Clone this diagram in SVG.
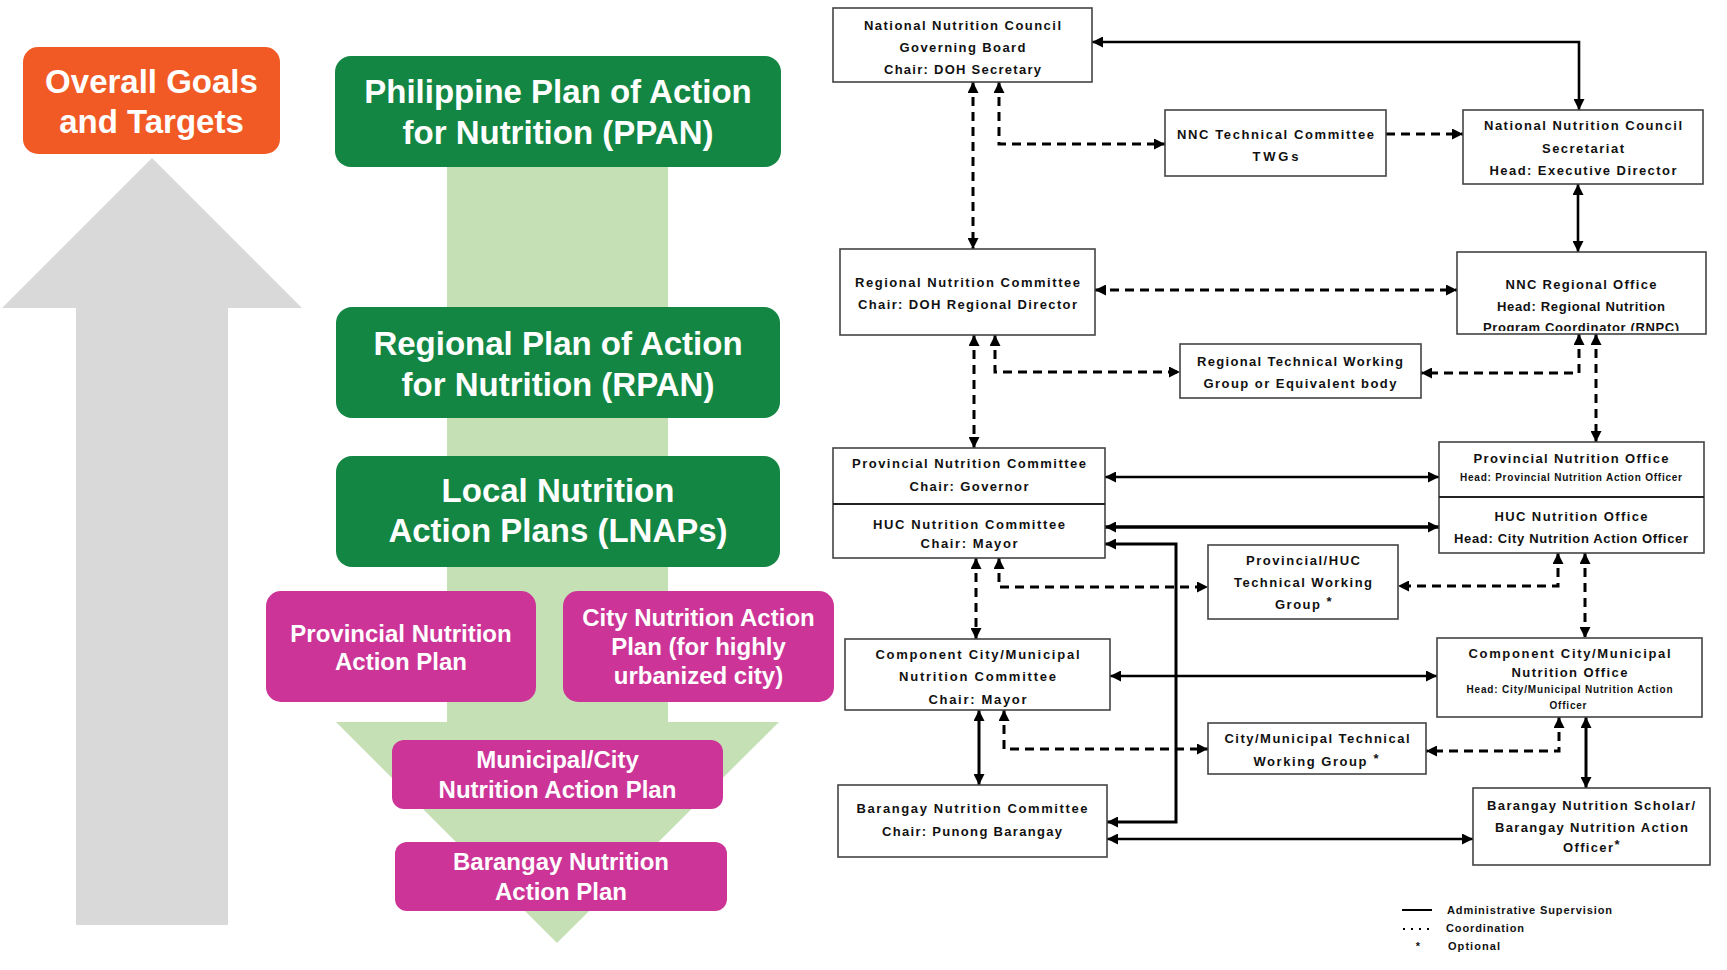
<svg xmlns="http://www.w3.org/2000/svg" width="1727" height="970" viewBox="0 0 1727 970">
<style>
.big{font-family:"Liberation Sans",Arial,sans-serif;font-weight:bold;fill:#fff;text-anchor:middle}
.b33{font-size:33px}
.b24{font-size:24px}
.box{fill:#fff;stroke:#444;stroke-width:1.6}
.t{font-family:"Liberation Sans",Arial,sans-serif;font-weight:bold;font-size:13px;fill:#111;text-anchor:middle}
.s{font-size:10px}
.st{font-family:"Liberation Sans",Arial,sans-serif;font-weight:bold;font-size:13px;fill:#111;text-anchor:middle}
.sol{fill:none;stroke:#000;stroke-width:2.6;marker-start:url(#ah);marker-end:url(#ah)}
.das{fill:none;stroke:#000;stroke-width:3;stroke-dasharray:9 6;marker-start:url(#ah);marker-end:url(#ah)}
.leg{font-family:"Liberation Sans",Arial,sans-serif;font-weight:bold;font-size:11px;fill:#111}
</style>
<defs>
<marker id="ah" viewBox="0 0 10 10" refX="10" refY="5" markerWidth="12" markerHeight="11" markerUnits="userSpaceOnUse" orient="auto-start-reverse">
<path d="M0,0 L10,5 L0,10 z" fill="#000"/>
</marker>
<clipPath id="rnoclip"><rect x="1457" y="252" width="249" height="79"/></clipPath>
</defs>
<rect width="1727" height="970" fill="#fff"/>

<g id="left-panel">
<polygon id="up-arrow" points="152,158 302,308 228,308 228,925 76,925 76,308 2,308" fill="#D9D9D9"/>
<polygon id="down-arrow" points="447,160 668,160 668,722 779,722 557,943 336,722 447,722" fill="#C5E0B4"/>
<g id="goals">
<rect x="23" y="47" width="257" height="107" rx="15" fill="#F15A24"/>
<text class="big b33" x="151.5" y="93">Overall Goals</text>
<text class="big b33" x="151.5" y="133">and Targets</text>
</g>
<g id="ppan">
<rect x="335" y="56" width="446" height="111" rx="16" fill="#138644"/>
<text class="big b33" x="558" y="103">Philippine Plan of Action</text>
<text class="big b33" x="558" y="144">for Nutrition (PPAN)</text>
</g>
<g id="rpan">
<rect x="336" y="307" width="444" height="111" rx="16" fill="#138644"/>
<text class="big b33" x="558" y="355">Regional Plan of Action</text>
<text class="big b33" x="558" y="396">for Nutrition (RPAN)</text>
</g>
<g id="lnap">
<rect x="336" y="456" width="444" height="111" rx="16" fill="#138644"/>
<text class="big b33" x="558" y="502">Local Nutrition</text>
<text class="big b33" x="558" y="542">Action Plans (LNAPs)</text>
</g>
<g id="pnap">
<rect x="266" y="591" width="270" height="111" rx="15" fill="#CC3497"/>
<text class="big b24" x="401" y="642">Provincial Nutrition</text>
<text class="big b24" x="401" y="670">Action Plan</text>
</g>
<g id="cnap">
<rect x="563" y="591" width="271" height="111" rx="15" fill="#CC3497"/>
<text class="big b24" x="698.5" y="626">City Nutrition Action</text>
<text class="big b24" x="698.5" y="655">Plan (for highly</text>
<text class="big b24" x="698.5" y="684">urbanized city)</text>
</g>
<g id="mnap">
<rect x="392" y="740" width="331" height="69" rx="12" fill="#CC3497"/>
<text class="big b24" x="557.5" y="768">Municipal/City</text>
<text class="big b24" x="557.5" y="798">Nutrition Action Plan</text>
</g>
<g id="bnap">
<rect x="395" y="842" width="332" height="69" rx="12" fill="#CC3497"/>
<text class="big b24" x="561" y="870">Barangay Nutrition</text>
<text class="big b24" x="561" y="900">Action Plan</text>
</g>
</g>

<g id="connectors">
<path class="sol" d="M1092,42 H1579 V110" stroke-width="3"/>
<path class="das" d="M973,82 V249"/>
<path class="das" d="M999,82 V144 H1165"/>
<path class="das" d="M1386,134 H1463" style="marker-start:none"/>
<path class="sol" d="M1578,184 V252" stroke-width="3"/>
<path class="das" d="M1095,290 H1457"/>
<path class="das" d="M974,335 V448"/>
<path class="das" d="M995,335 V372 H1180"/>
<path class="das" d="M1579,334 V373 H1421"/>
<path class="das" d="M1596,334 V442"/>
<path class="sol" d="M1105,477 H1439"/>
<path class="sol" d="M1105,527 H1439" style="stroke-width:3.6"/>
<path class="sol" d="M1105,544 H1176 V822 H1107" style="stroke-width:3"/>
<path class="das" d="M976,558 V639"/>
<path class="das" d="M999,558 V587 H1208"/>
<path class="das" d="M1558,553 V586 H1398"/>
<path class="das" d="M1585,553 V638"/>
<path class="sol" d="M1110,676 H1437"/>
<path class="sol" d="M979,710 V785" style="stroke-width:3"/>
<path class="das" d="M1004,710 V749 H1208"/>
<path class="das" d="M1559,717 V751 H1426"/>
<path class="sol" d="M1586,717 V788" style="stroke-width:3"/>
<path class="sol" d="M1107,839 H1473"/>
</g>

<g id="nnc-board">
<rect class="box" x="833" y="8" width="259" height="74"/>
<text class="t" x="962.5" y="29.5" textLength="197" lengthAdjust="spacing">National Nutrition Council</text>
<text class="t" x="962.5" y="51.5" textLength="126" lengthAdjust="spacing">Governing Board</text>
<text class="t" x="962.5" y="73.5" textLength="157" lengthAdjust="spacing">Chair: DOH Secretary</text>
</g>
<g id="nnc-tc">
<rect class="box" x="1165" y="110" width="221" height="66"/>
<text class="t" x="1275.5" y="138.5" textLength="197" lengthAdjust="spacing">NNC Technical Committee</text>
<text class="t" x="1275.5" y="160.5" textLength="46" lengthAdjust="spacing">TWGs</text>
</g>
<g id="nnc-secretariat">
<rect class="box" x="1463" y="110" width="240" height="74"/>
<text class="t" x="1583" y="129.5" textLength="198" lengthAdjust="spacing">National Nutrition Council</text>
<text class="t" x="1583" y="152.5" textLength="82" lengthAdjust="spacing">Secretariat</text>
<text class="t" x="1583" y="174.5" textLength="187" lengthAdjust="spacing">Head: Executive Director</text>
</g>
<g id="nnc-ro">
<rect class="box" x="1457" y="252" width="249" height="82"/>
<text class="t" x="1581" y="288.5" textLength="151" lengthAdjust="spacing">NNC Regional Office</text>
<text class="t" x="1581" y="310.5" textLength="168" lengthAdjust="spacing">Head: Regional Nutrition</text>
<text class="t" x="1581" y="332" textLength="196" lengthAdjust="spacing" clip-path="url(#rnoclip)">Program Coordinator (RNPC)</text>
</g>
<g id="rnc">
<rect class="box" x="840" y="249" width="255" height="86"/>
<text class="t" x="967.5" y="286.5" textLength="225" lengthAdjust="spacing">Regional Nutrition Committee</text>
<text class="t" x="967.5" y="308.5" textLength="219" lengthAdjust="spacing">Chair: DOH Regional Director</text>
</g>
<g id="rtwg">
<rect class="box" x="1180" y="344" width="241" height="54"/>
<text class="t" x="1300" y="365.5" textLength="206" lengthAdjust="spacing">Regional Technical Working</text>
<text class="t" x="1300" y="387.5" textLength="193" lengthAdjust="spacing">Group or Equivalent body</text>
</g>
<g id="pnc-hucnc">
<rect class="box" x="833" y="448" width="272" height="110"/>
<line x1="833" y1="504" x2="1105" y2="504" stroke="#222" stroke-width="2"/>
<text class="t" x="969" y="467.5" textLength="234" lengthAdjust="spacing">Provincial Nutrition Committee</text>
<text class="t" x="969" y="490.5" textLength="119" lengthAdjust="spacing">Chair: Governor</text>
<text class="t" x="969" y="528.5" textLength="192" lengthAdjust="spacing">HUC Nutrition Committee</text>
<text class="t" x="969" y="547.5" textLength="97" lengthAdjust="spacing">Chair: Mayor</text>
</g>
<g id="pno-hucno">
<rect class="box" x="1439" y="442" width="265" height="111"/>
<line x1="1439" y1="497" x2="1704" y2="497" stroke="#222" stroke-width="2"/>
<text class="t" x="1571" y="462.5" textLength="195" lengthAdjust="spacing">Provincial Nutrition Office</text>
<text class="t s" x="1571" y="480.5" textLength="222" lengthAdjust="spacing">Head: Provincial Nutrition Action Officer</text>
<text class="t" x="1571" y="520.5" textLength="153" lengthAdjust="spacing">HUC Nutrition Office</text>
<text class="t" x="1571" y="542.5" textLength="234" lengthAdjust="spacing">Head: City Nutrition Action Officer</text>
</g>
<g id="phuc-twg">
<rect class="box" x="1208" y="545" width="190" height="74"/>
<text class="t" x="1303" y="564.5" textLength="114" lengthAdjust="spacing">Provincial/HUC</text>
<text class="t" x="1303" y="586.5" textLength="138" lengthAdjust="spacing">Technical Working</text>
<text class="t" x="1297.5" y="608.5" textLength="45" lengthAdjust="spacing">Group</text>
<text class="st" x="1329" y="606">*</text>
</g>
<g id="ccm-nc">
<rect class="box" x="845" y="639" width="265" height="71"/>
<text class="t" x="977.5" y="658.5" textLength="204" lengthAdjust="spacing">Component City/Municipal</text>
<text class="t" x="977.5" y="680.5" textLength="157" lengthAdjust="spacing">Nutrition Committee</text>
<text class="t" x="977.5" y="703.5" textLength="98" lengthAdjust="spacing">Chair: Mayor</text>
</g>
<g id="ccm-no">
<rect class="box" x="1437" y="638" width="265" height="79"/>
<text class="t" x="1569.5" y="657.5" textLength="202" lengthAdjust="spacing">Component City/Municipal</text>
<text class="t" x="1569.5" y="676.5" textLength="116" lengthAdjust="spacing">Nutrition Office</text>
<text class="t s" x="1569.5" y="692.5" textLength="206" lengthAdjust="spacing">Head: City/Municipal Nutrition Action</text>
<text class="t s" x="1568" y="708.5" textLength="37" lengthAdjust="spacing">Officer</text>
</g>
<g id="cm-twg">
<rect class="box" x="1208" y="723" width="218" height="51"/>
<text class="t" x="1317" y="742.5" textLength="185" lengthAdjust="spacing">City/Municipal Technical</text>
<text class="t" x="1310" y="765.5" textLength="113" lengthAdjust="spacing">Working Group</text>
<text class="st" x="1376" y="763">*</text>
</g>
<g id="bns">
<rect class="box" x="1473" y="788" width="237" height="77"/>
<text class="t" x="1591" y="809.5" textLength="208" lengthAdjust="spacing">Barangay Nutrition Scholar/</text>
<text class="t" x="1591.5" y="831.5" textLength="193" lengthAdjust="spacing">Barangay Nutrition Action</text>
<text class="t" x="1588" y="851.5" textLength="50" lengthAdjust="spacing">Officer</text>
<text class="st" x="1617" y="849" font-size="11">*</text>
</g>
<g id="bnc">
<rect class="box" x="838" y="785" width="269" height="72"/>
<text class="t" x="972" y="812.5" textLength="231" lengthAdjust="spacing">Barangay Nutrition Committee</text>
<text class="t" x="972" y="835.5" textLength="180" lengthAdjust="spacing">Chair: Punong Barangay</text>
</g>

<g id="legend">
<line x1="1402" y1="910" x2="1432" y2="910" stroke="#000" stroke-width="2"/>
<text class="leg" x="1447" y="914" textLength="165" lengthAdjust="spacing">Administrative Supervision</text>
<line x1="1403" y1="929" x2="1432" y2="929" stroke="#000" stroke-width="2" stroke-dasharray="2 6"/>
<text class="leg" x="1446" y="932" textLength="78" lengthAdjust="spacing">Coordination</text>
<text class="leg" x="1418" y="950" text-anchor="middle">*</text>
<text class="leg" x="1448" y="950" textLength="52" lengthAdjust="spacing">Optional</text>
</g>
</svg>
